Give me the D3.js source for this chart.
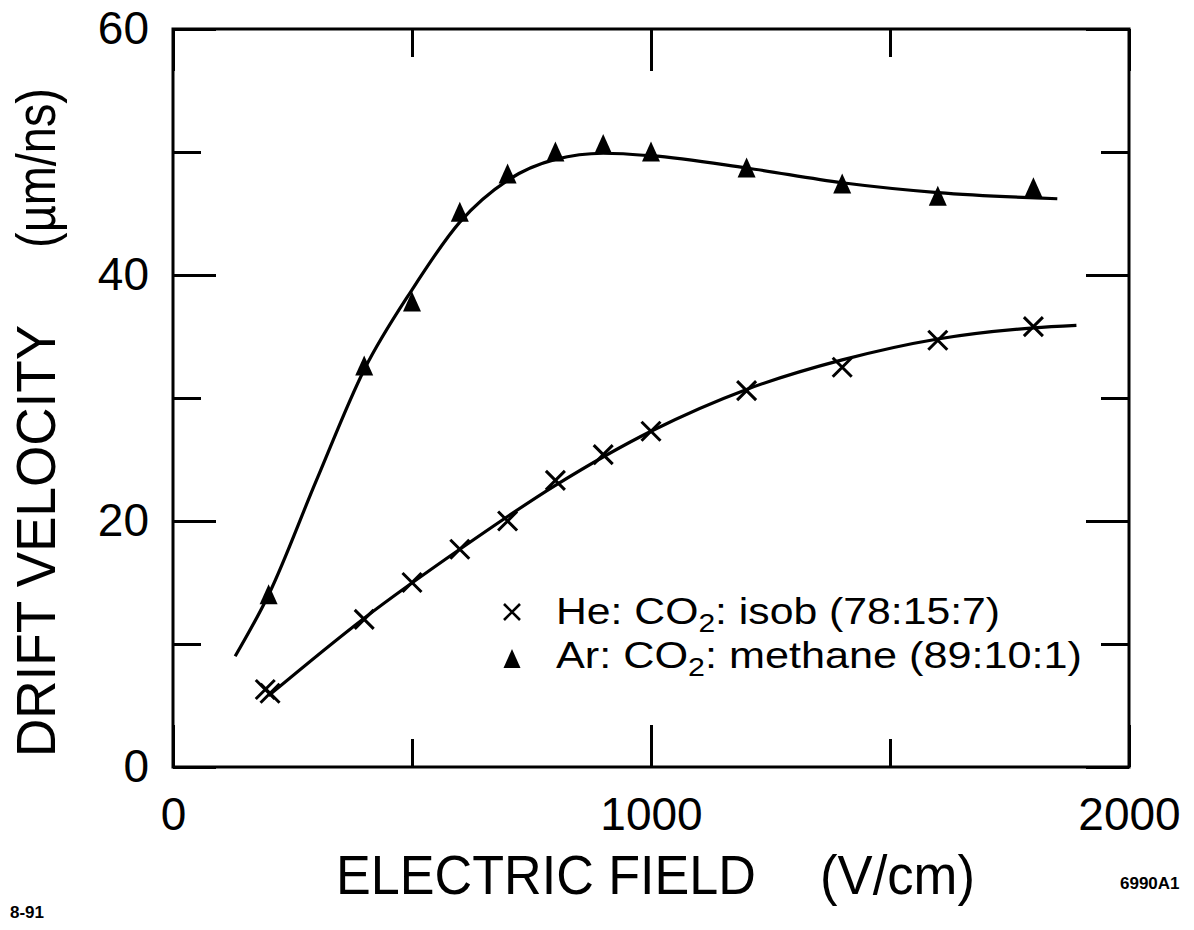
<!DOCTYPE html>
<html>
<head>
<meta charset="utf-8">
<script src="https://cdn.jsdelivr.net/npm/d3@7/dist/d3.min.js"></script>
<style>
  body { margin: 0; background: #fff; }
  svg { display: block; }
  text { font-family: "Liberation Sans", Arial, sans-serif; fill: #000; }
</style>
</head>
<body>
<svg id="chart" width="1194" height="930"></svg>
<script>
// measured points
var arField = [200, 400, 500, 600, 700, 800, 900, 1000, 1200, 1400, 1600, 1800];
var arVel   = [13.8, 32.4, 37.6, 44.9, 48.0, 49.8, 50.4, 49.8, 48.5, 47.2, 46.2, 46.9];

var heField = [193, 203, 400, 500, 600, 700, 800, 900, 1000, 1200, 1400, 1600, 1800];
var heVel   = [6.3, 6.0, 12.0, 15.0, 17.7, 20.0, 23.3, 25.4, 27.3, 30.6, 32.5, 34.7, 35.8];

// hand-drawn fit curves
var arFitField = [130, 200, 300, 400, 500, 600, 700, 800, 900, 1000, 1200, 1400, 1600, 1850];
var arFitVel   = [9.0, 14.0, 23.3, 32.3, 38.8, 44.3, 47.7, 49.4, 49.9, 49.7, 48.7, 47.5, 46.7, 46.2];

var heFitField = [200, 400, 600, 800, 1000, 1200, 1400, 1600, 1800, 1890];
var heFitVel   = [5.8, 12.1, 17.7, 22.9, 27.3, 30.7, 33.1, 34.8, 35.7, 35.9];

var xMajor = [0, 1000, 2000], xMinor = [500, 1500];
var yMajor = [0, 20, 40, 60], yMinor = [10, 30, 50];

var svg = d3.select('#chart');

var x = d3.scaleLinear().domain([0, 2000]).range([173, 1129]);
var y = d3.scaleLinear().domain([0, 60]).range([767, 29]);

function zip(a, b){ return a.map(function(d, i){ return [d, b[i]]; }); }

// frame
svg.append('rect')
	.attr('x', x(0)).attr('y', y(60))
	.attr('width', x(2000) - x(0)).attr('height', y(0) - y(60))
	.attr('fill', 'none').attr('stroke', '#000').attr('stroke-width', 3);

// ticks, all pointing inward
function ticks(axis, vals, len, tr){
	var g = svg.append('g').attr('transform', tr)
		.call(axis.tickValues(vals).tickSizeInner(-len).tickSizeOuter(0).tickFormat(''));
	g.select('.domain').remove();
	g.selectAll('line').attr('stroke', '#000').attr('stroke-width', 3);
}
ticks(d3.axisBottom(x), xMajor, 42, 'translate(0,' + y(0) + ')');
ticks(d3.axisBottom(x), xMinor, 28, 'translate(0,' + y(0) + ')');
ticks(d3.axisTop(x), xMajor, 42, 'translate(0,' + y(60) + ')');
ticks(d3.axisTop(x), xMinor, 28, 'translate(0,' + y(60) + ')');
ticks(d3.axisLeft(y), yMajor, 43, 'translate(' + x(0) + ',0)');
ticks(d3.axisLeft(y), yMinor, 28, 'translate(' + x(0) + ',0)');
ticks(d3.axisRight(y), yMajor, 43, 'translate(' + x(2000) + ',0)');
ticks(d3.axisRight(y), yMinor, 28, 'translate(' + x(2000) + ',0)');

// tick labels
var xl = svg.append('g').attr('transform', 'translate(0,' + y(0) + ')')
	.call(d3.axisBottom(x).tickValues(xMajor).tickSize(0).tickPadding(30).tickFormat(d3.format('d')));
xl.select('.domain').remove();
xl.selectAll('text').style('font-size', '46px').style('font-family', '"Liberation Sans", Arial, sans-serif');

var yl = svg.append('g').attr('transform', 'translate(' + x(0) + ',0)')
	.call(d3.axisLeft(y).tickValues(yMajor).tickSize(0).tickPadding(24).tickFormat(d3.format('d')));
yl.select('.domain').remove();
yl.selectAll('text').style('font-size', '46px').style('font-family', '"Liberation Sans", Arial, sans-serif');

// curves
var line = d3.line()
	.x(function(d){ return x(d[0]); })
	.y(function(d){ return y(d[1]); })
	.curve(d3.curveMonotoneX);

svg.append('path').datum(zip(arFitField, arFitVel))
	.attr('d', line).attr('fill', 'none').attr('stroke', '#000').attr('stroke-width', 3.2);
svg.append('path').datum(zip(heFitField, heFitVel))
	.attr('d', line).attr('fill', 'none').attr('stroke', '#000').attr('stroke-width', 3.2);

// markers
var triPath = 'M0,-13L9,7L-9,7Z';
var crossPath = 'M-9.5,-9.5L9.5,9.5M-9.5,9.5L9.5,-9.5';

svg.selectAll('.tri').data(zip(arField, arVel)).enter().append('path')
	.attr('class', 'tri')
	.attr('d', triPath)
	.attr('transform', function(d){ return 'translate(' + x(d[0]) + ',' + y(d[1]) + ')'; })
	.attr('fill', '#000');

svg.selectAll('.cross').data(zip(heField, heVel)).enter().append('path')
	.attr('class', 'cross')
	.attr('d', crossPath)
	.attr('transform', function(d){ return 'translate(' + x(d[0]) + ',' + y(d[1]) + ')'; })
	.attr('fill', 'none').attr('stroke', '#000').attr('stroke-width', 3);

// legend
svg.append('path').attr('d', 'M-8,-8L8,8M-8,8L8,-8')
	.attr('transform', 'translate(512,612)')
	.attr('fill', 'none').attr('stroke', '#000').attr('stroke-width', 2.6);
svg.append('path').attr('d', 'M0,-12L8.5,7L-8.5,7Z')
	.attr('transform', 'translate(512,661)').attr('fill', '#000');

function legendText(yPos, pre, post, len){
	var t = svg.append('text').attr('x', 556).attr('y', yPos)
		.style('font-size', '37px')
		.attr('textLength', len).attr('lengthAdjust', 'spacingAndGlyphs');
	t.append('tspan').text(pre + 'CO');
	t.append('tspan').attr('dy', 8).style('font-size', '26px').text('2');
	t.append('tspan').attr('dy', -8).text(post);
}
legendText(624, 'He: ', ': isob (78:15:7)', 444);
legendText(668, 'Ar: ', ': methane (89:10:1)', 526);

// axis titles
svg.append('text').attr('x', 336).attr('y', 894)
	.style('font-size', '55px')
	.attr('textLength', 420).attr('lengthAdjust', 'spacingAndGlyphs')
	.text('ELECTRIC FIELD');
svg.append('text').attr('x', 820).attr('y', 894)
	.style('font-size', '55px')
	.attr('textLength', 155).attr('lengthAdjust', 'spacingAndGlyphs')
	.text('(V/cm)');

svg.append('text').attr('transform', 'translate(55,757) rotate(-90)')
	.style('font-size', '55px')
	.attr('textLength', 432).attr('lengthAdjust', 'spacingAndGlyphs')
	.text('DRIFT VELOCITY');
svg.append('text').attr('transform', 'translate(55,248) rotate(-90)')
	.style('font-size', '55px')
	.attr('textLength', 160).attr('lengthAdjust', 'spacingAndGlyphs')
	.text('(\u00b5m/ns)');

// corner notes
svg.append('text').attr('x', 10).attr('y', 918)
	.style('font-size', '17px').style('font-weight', 'bold').text('8-91');
svg.append('text').attr('x', 1120).attr('y', 889)
	.style('font-size', '17px').style('font-weight', 'bold').text('6990A1');
</script>
</body>
</html>
